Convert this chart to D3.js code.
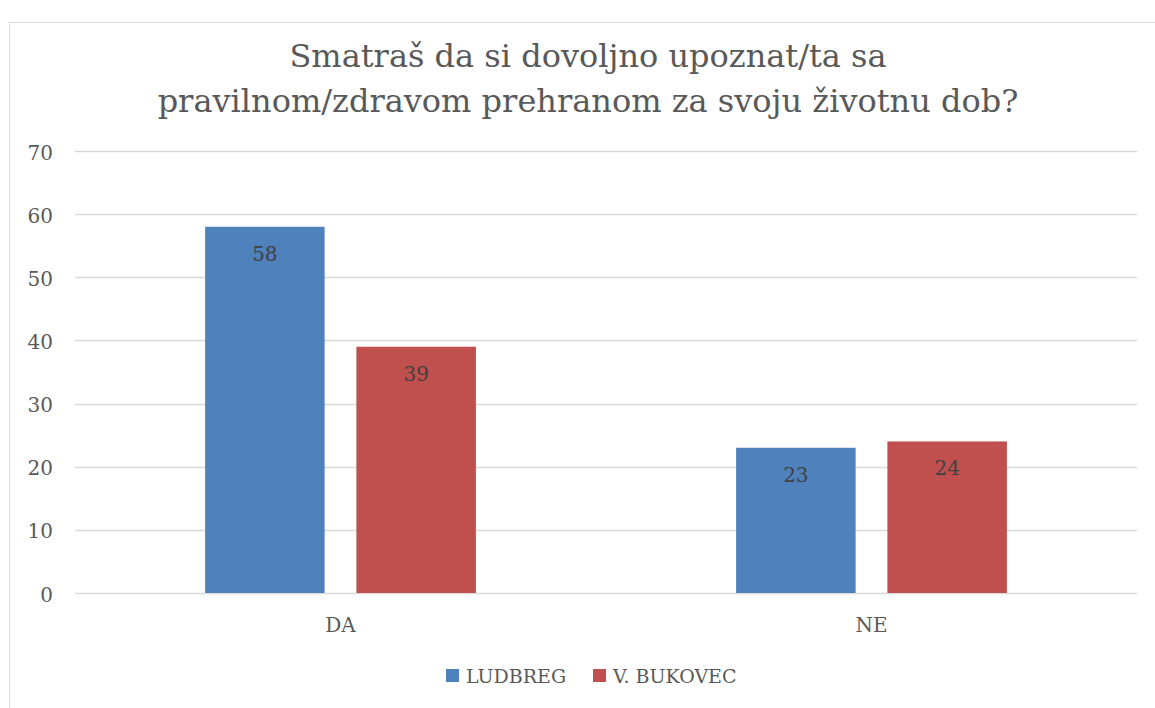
<!DOCTYPE html>
<html>
<head>
<meta charset="utf-8">
<script src="https://cdn.jsdelivr.net/npm/d3@7"></script>
<style>
  body { margin: 0; background: #fff; }
  text { font-family: "DejaVu Serif", "Liberation Serif", serif; fill: #595959; }
</style>
</head>
<body>
<div id="chart"></div>
<script>
var titleLines = ["Smatraš da si dovoljno upoznat/ta sa", "pravilnom/zdravom prehranom za svoju životnu dob?"];
var categories = ["DA", "NE"];
var seriesNames = ["LUDBREG", "V. BUKOVEC"];
var ludbreg = [58, 23];
var bukovec = [39, 24];
var yTicks = [0, 10, 20, 30, 40, 50, 60, 70];
var colors = ["#4F81BD", "#C0504D"];

var width = 1155, height = 708;
var margin = {top: 151, right: 18, bottom: 115, left: 75};

var svg = d3.select("#chart").append("svg")
    .attr("width", width)
    .attr("height", height);

// chart frame (right / bottom run off the picture)
svg.append("rect")
    .attr("x", 9.5).attr("y", 22.5)
    .attr("width", 1170).attr("height", 700)
    .attr("fill", "none")
    .attr("stroke", "#d9d9d9");

var x0 = d3.scaleBand()
    .domain(categories)
    .range([margin.left, width - margin.right])
    .paddingInner(0.49)
    .paddingOuter(0.245);

var x1 = d3.scaleBand()
    .domain(seriesNames)
    .range([0, x0.bandwidth()])
    .paddingInner(0.21);

var y = d3.scaleLinear()
    .domain([0, 70])
    .range([height - margin.bottom, margin.top]);

// gridlines
svg.append("g")
    .selectAll("line")
    .data(yTicks)
    .enter().append("line")
    .attr("x1", margin.left)
    .attr("x2", width - margin.right)
    .attr("y1", function (d) { return Math.round(y(d)) + 0.5; })
    .attr("y2", function (d) { return Math.round(y(d)) + 0.5; })
    .attr("stroke", "#d9d9d9")
    .attr("stroke-width", 1.3);

// y tick labels
svg.append("g")
    .selectAll("text")
    .data(yTicks)
    .enter().append("text")
    .attr("x", 53)
    .attr("y", function (d) { return y(d) + 8.5; })
    .attr("text-anchor", "end")
    .style("font-size", "20px")
    .text(function (d) { return d; });

var rows = categories.map(function (c, i) {
    return {cat: c, vals: [ludbreg[i], bukovec[i]]};
});

var groups = svg.append("g")
    .selectAll("g")
    .data(rows)
    .enter().append("g")
    .attr("transform", function (d) { return "translate(" + x0(d.cat) + ",0)"; });

groups.selectAll("rect")
    .data(function (d) { return d.vals.map(function (v, j) { return {s: seriesNames[j], v: v, j: j}; }); })
    .enter().append("rect")
    .attr("x", function (d) { return x1(d.s); })
    .attr("y", function (d) { return y(d.v); })
    .attr("width", x1.bandwidth())
    .attr("height", function (d) { return y(0) - y(d.v); })
    .attr("fill", function (d) { return colors[d.j]; });

// data labels
groups.selectAll(".lbl")
    .data(function (d) { return d.vals.map(function (v, j) { return {s: seriesNames[j], v: v}; }); })
    .enter().append("text")
    .attr("class", "lbl")
    .attr("x", function (d) { return x1(d.s) + x1.bandwidth() / 2; })
    .attr("y", function (d) { return y(d.v) + 34; })
    .attr("text-anchor", "middle")
    .style("font-size", "20px")
    .style("fill", "#404040")
    .text(function (d) { return d.v; });

// category labels
svg.append("g")
    .selectAll("text")
    .data(categories)
    .enter().append("text")
    .attr("x", function (d) { return x0(d) + x0.bandwidth() / 2; })
    .attr("y", 632)
    .attr("text-anchor", "middle")
    .style("font-size", "20px")
    .text(function (d) { return d; });

// title
svg.append("g")
    .selectAll("text")
    .data(titleLines)
    .enter().append("text")
    .attr("x", 588)
    .attr("y", function (d, i) { return 67 + i * 45; })
    .attr("text-anchor", "middle")
    .style("font-size", "32px")
    .text(function (d) { return d; });

// legend
var legendX = [446, 593];
var legend = svg.append("g")
    .selectAll("g")
    .data(seriesNames)
    .enter().append("g")
    .attr("transform", function (d, i) { return "translate(" + legendX[i] + ",669)"; });

legend.append("rect")
    .attr("width", 13).attr("height", 13)
    .attr("fill", function (d, i) { return colors[i]; });

legend.append("text")
    .attr("x", 20)
    .attr("y", 13.5)
    .style("font-size", "19px")
    .text(function (d) { return d; });
</script>
</body>
</html>
